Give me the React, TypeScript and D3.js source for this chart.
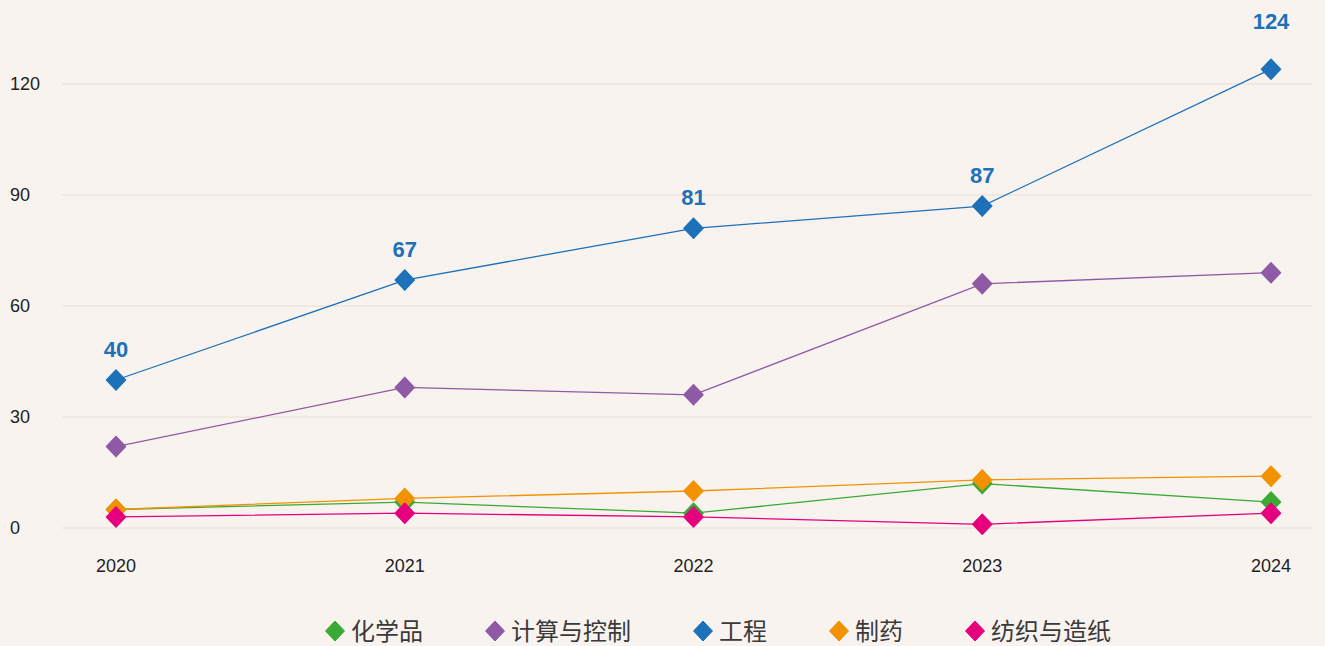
import * as d3 from "d3";
import {useEffect, useRef} from "react";

const years = ["2020", "2021", "2022", "2023", "2024"];
const yTicks = [0, 30, 60, 90, 120];

const seriesNames = ["化学品", "计算与控制", "工程", "制药", "纺织与造纸"];
const seriesColors = ["#3aaa35", "#8f5aa5", "#1d71b8", "#f39200", "#e6007e"];

const chemicals = [5, 7, 4, 12, 7];
const computing = [22, 38, 36, 66, 69];
const engineering = [40, 67, 81, 87, 124];
const pharma = [5, 8, 10, 13, 14];
const textiles = [3, 4, 3, 1, 4];

const allSeries = [chemicals, computing, engineering, pharma, textiles];
// order the lines are painted in (last on top)
const drawOrder = [1, 2, 0, 3, 4];
const labelSeries = 2;

const W = 1325;
const H = 646;
const font = "'Liberation Sans', Arial, sans-serif";
const cjkFont = "'Noto Sans CJK SC', 'Liberation Sans', sans-serif";

const diamond = (cx, cy, r) =>
    `M${cx},${cy - r}L${cx + r * 0.95},${cy}L${cx},${cy + r}L${cx - r * 0.95},${cy}Z`;

const App = () => {
    const ref = useRef(null);

    useEffect(() => {
        const svg = d3.select(ref.current);
        svg.selectAll("*").remove();

        const x = d3.scalePoint().domain(years).range([116, 1271]);
        const y = d3.scaleLinear().domain([0, 120]).range([528, 84]);

        svg.append("rect").attr("width", W).attr("height", H).attr("fill", "#f8f3ef");

        // grid + y labels
        const grid = svg.append("g");
        yTicks.forEach(t => {
            grid.append("line")
                .attr("x1", 62).attr("x2", 1312)
                .attr("y1", y(t)).attr("y2", y(t))
                .attr("stroke", "#efe5dc")
                .attr("stroke-width", 1.5);
            grid.append("text")
                .attr("x", 10).attr("y", y(t))
                .attr("dy", "0.35em")
                .attr("font-family", font)
                .attr("font-size", 18)
                .attr("fill", "#222")
                .text(t);
        });

        // x labels
        years.forEach(yr => {
            svg.append("text")
                .attr("x", x(yr)).attr("y", 566)
                .attr("dy", "0.35em")
                .attr("text-anchor", "middle")
                .attr("font-family", font)
                .attr("font-size", 18)
                .attr("fill", "#222")
                .text(yr);
        });

        const line = d3.line()
            .x((d, i) => x(years[i]))
            .y(d => y(d));

        drawOrder.forEach(si => {
            const vals = allSeries[si];
            const g = svg.append("g");
            g.append("path")
                .attr("d", line(vals))
                .attr("fill", "none")
                .attr("stroke", seriesColors[si])
                .attr("stroke-width", 1.3);
            g.selectAll("path.m")
                .data(vals)
                .enter()
                .append("path")
                .attr("class", "m")
                .attr("d", (d, i) => diamond(x(years[i]), y(d), 10))
                .attr("fill", seriesColors[si])
                .attr("stroke", seriesColors[si])
                .attr("stroke-width", 1.5)
                .attr("stroke-linejoin", "round");
        });

        // value labels for engineering
        const lv = allSeries[labelSeries];
        lv.forEach((v, i) => {
            svg.append("text")
                .attr("x", x(years[i]))
                .attr("y", y(v) - (i === lv.length - 1 ? 48 : 31))
                .attr("dy", "0.35em")
                .attr("text-anchor", "middle")
                .attr("font-family", font)
                .attr("font-weight", "bold")
                .attr("font-size", 22)
                .attr("fill", seriesColors[labelSeries])
                .text(v);
        });

        // legend
        const legend = svg.append("g");
        const fs = 24;
        let cx = 335;
        seriesNames.forEach((name, i) => {
            legend.append("path")
                .attr("d", diamond(cx, 631, 10))
                .attr("fill", seriesColors[i])
                .attr("stroke", seriesColors[i])
                .attr("stroke-width", 1)
                .attr("stroke-linejoin", "round");
            const t = legend.append("text")
                .attr("x", cx + 16).attr("y", 631)
                .attr("dy", "0.36em")
                .attr("font-family", cjkFont)
                .attr("font-size", fs)
                .attr("fill", "#3a3a3a")
                .text(name);
            const w = t.node().getComputedTextLength();
            cx = cx + 16 + w + 72;
        });
    }, []);

    return (
        <svg ref={ref} width={W} height={H}
             style={{position: "absolute", left: 0, top: 0, display: "block"}} />
    );
};

export default App;
